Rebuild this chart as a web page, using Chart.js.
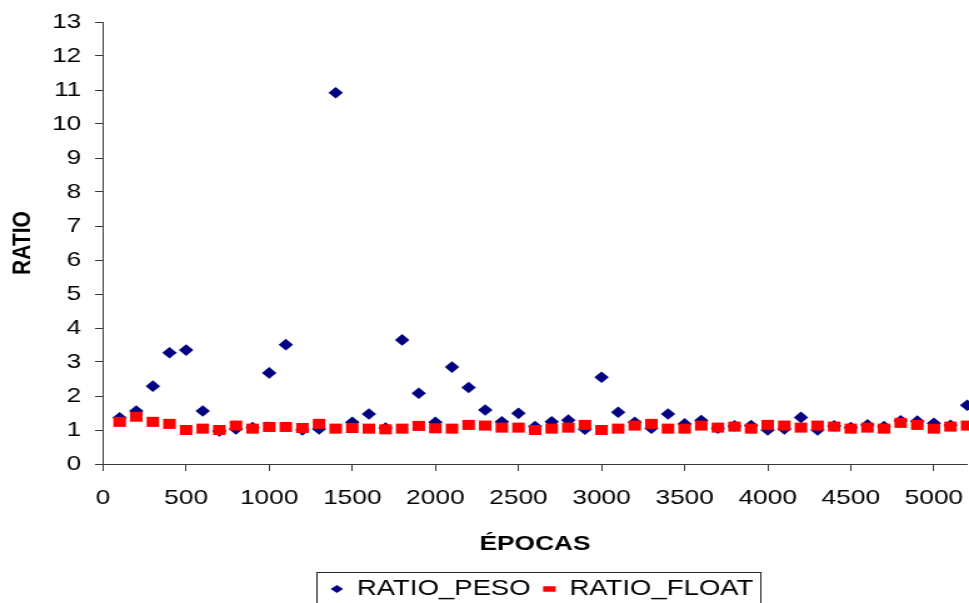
<!DOCTYPE html>
<html>
<head>
<meta charset="utf-8">
<script src="https://cdn.jsdelivr.net/npm/chart.js@4.4.1/dist/chart.umd.min.js"></script>
<style>
  html, body { margin: 0; padding: 0; background: #ffffff; }
</style>
</head>
<body>
<!-- the canvas is drawn narrower and widened on screen, giving the wide lettering and markers -->
<canvas id="chart" width="775" height="603" style="display:block;width:969px;height:603px;"></canvas>
<script>
// Training epochs sampled every 100
const epocas = [
  100, 200, 300, 400, 500, 600, 700, 800, 900, 1000,
  1100, 1200, 1300, 1400, 1500, 1600, 1700, 1800, 1900, 2000,
  2100, 2200, 2300, 2400, 2500, 2600, 2700, 2800, 2900, 3000,
  3100, 3200, 3300, 3400, 3500, 3600, 3700, 3800, 3900, 4000,
  4100, 4200, 4300, 4400, 4500, 4600, 4700, 4800, 4900, 5000,
  5100, 5200
];

const ratioPeso = [
  1.36, 1.56, 2.29, 3.27, 3.35, 1.56, 0.97, 1.03, 1.07, 2.68,
  3.51, 1.00, 1.03, 10.92, 1.23, 1.47, 1.06, 3.65, 2.08, 1.23,
  2.85, 2.25, 1.59, 1.24, 1.49, 1.10, 1.24, 1.29, 1.02, 2.55,
  1.52, 1.23, 1.05, 1.47, 1.18, 1.28, 1.05, 1.12, 1.13, 1.00,
  1.03, 1.37, 1.00, 1.12, 1.07, 1.15, 1.10, 1.27, 1.26, 1.20,
  1.14, 1.73
];

const ratioFloat = [
  1.24, 1.39, 1.24, 1.18, 1.00, 1.04, 1.00, 1.13, 1.04, 1.09,
  1.09, 1.06, 1.18, 1.04, 1.06, 1.04, 1.02, 1.04, 1.12, 1.05,
  1.04, 1.15, 1.13, 1.07, 1.07, 1.00, 1.04, 1.07, 1.15, 1.00,
  1.04, 1.13, 1.18, 1.04, 1.04, 1.13, 1.07, 1.10, 1.04, 1.15,
  1.13, 1.07, 1.13, 1.10, 1.04, 1.07, 1.04, 1.21, 1.15, 1.04,
  1.10, 1.13
];

const xTickValues = [0, 500, 1000, 1500, 2000, 2500, 3000, 3500, 4000, 4500, 5000];
const yTickValues = [0, 1, 2, 3, 4, 5, 6, 7, 8, 9, 10, 11, 12, 13];

const FONT = "'Liberation Sans', Arial, Helvetica, sans-serif";
const AXIS_COLOR = '#3a3a3a';
const LEGEND_SHIFT = 5.5;

// Nudge the legend slightly right of the plot centre and frame it (frame open past the bottom edge)
const legendFrame = {
  id: 'legendFrame',
  beforeDraw(chart) {
    const lg = chart.legend;
    if (!lg || lg._shifted) return;
    lg.left += LEGEND_SHIFT;
    lg.right += LEGEND_SHIFT;
    lg._shifted = true;
  },
  afterDraw(chart) {
    const lg = chart.legend;
    if (!lg || !lg.legendHitBoxes || !lg.legendHitBoxes.length) return;
    const boxes = lg.legendHitBoxes;
    const dx = lg._shifted ? LEGEND_SHIFT : 0;
    const left = Math.min(...boxes.map(b => b.left)) - 11 + dx;
    const right = Math.max(...boxes.map(b => b.left + b.width)) + 6 + dx;
    const top = Math.min(...boxes.map(b => b.top)) - 6;
    const ctx = chart.ctx;
    ctx.save();
    ctx.strokeStyle = '#222222';
    ctx.lineWidth = 1;
    ctx.strokeRect(Math.round(left) + 0.5, Math.round(top) + 0.5, Math.round(right - left), 80);
    ctx.restore();
  }
};

new Chart(document.getElementById('chart'), {
  type: 'scatter',
  data: {
    datasets: [
      {
        label: 'RATIO_PESO',
        data: epocas.map((x, i) => ({ x: x, y: ratioPeso[i] })),
        pointStyle: 'rectRot',
        pointRadius: 5.8,
        backgroundColor: '#000080',
        borderColor: '#000080',
        borderWidth: 0,
        order: 2,
        clip: false
      },
      {
        label: 'RATIO_FLOAT',
        data: epocas.map((x, i) => ({ x: x, y: ratioFloat[i] })),
        pointStyle: 'rect',
        pointRadius: 7.1,
        backgroundColor: '#ff0000',
        borderColor: '#ff0000',
        borderWidth: 0,
        order: 1,
        clip: false
      }
    ]
  },
  options: {
    responsive: false,
    animation: false,
    devicePixelRatio: 1,
    events: [],
    layout: { autoPadding: false, padding: { left: 0, right: 1.5, top: 22, bottom: -7 } },
    plugins: {
      tooltip: { enabled: false },
      legend: {
        display: true,
        position: 'bottom',
        fullSize: false,
        labels: {
          usePointStyle: true,
          pointStyleWidth: 10,
          boxHeight: 5.5,
          padding: 10,
          color: '#000000',
          font: { family: FONT, size: 22 },
          sort: (a, b) => a.datasetIndex - b.datasetIndex
        }
      }
    },
    scales: {
      x: {
        type: 'linear',
        min: 0,
        max: 5200,
        afterBuildTicks(scale) { scale.ticks = xTickValues.map(v => ({ value: v })); },
        afterFit(scale) {
          // the axis runs edge to edge of the plot, labels may overhang
          scale.height = 104;
          scale.paddingLeft = 0;
          scale.paddingRight = 0;
        },
        ticks: {
          color: '#000000',
          padding: 15,
          maxRotation: 0,
          autoSkip: false,
          font: { family: FONT, size: 21 },
          callback: (v) => String(v)
        },
        grid: { display: true, drawOnChartArea: false, drawTicks: true, tickLength: 7, color: AXIS_COLOR },
        border: { display: true, color: AXIS_COLOR, width: 1 },
        title: {
          display: true,
          text: 'ÉPOCAS',
          color: '#000000',
          font: { family: FONT, size: 21, weight: 'bold' },
          padding: { top: 0, bottom: 11 }
        }
      },
      y: {
        type: 'linear',
        min: 0,
        max: 13,
        afterBuildTicks(scale) { scale.ticks = yTickValues.map(v => ({ value: v })); },
        afterFit(scale) {
          scale.width = 82.4;
          scale.paddingTop = 0;
          scale.paddingBottom = 0;
        },
        ticks: {
          color: '#000000',
          padding: 11,
          font: { family: FONT, size: 21 },
          callback: (v) => String(v)
        },
        grid: { display: true, drawOnChartArea: false, drawTicks: true, tickLength: 6.4, color: AXIS_COLOR },
        border: { display: true, color: AXIS_COLOR, width: 1 },
        title: {
          display: true,
          text: 'RATIO',
          color: '#000000',
          font: { family: FONT, size: 21, weight: 'bold' },
          padding: { top: 6, bottom: 0 }
        }
      }
    }
  },
  plugins: [legendFrame]
});
</script>
</body>
</html>
